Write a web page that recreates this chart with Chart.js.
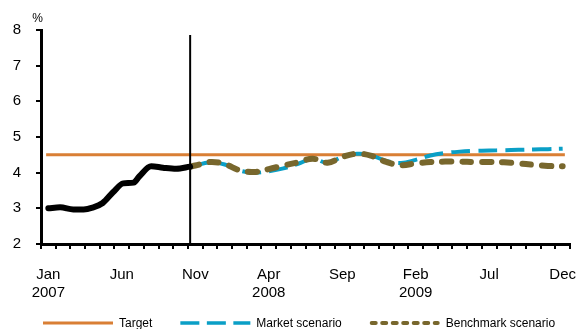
<!DOCTYPE html>
<html>
<head>
<meta charset="utf-8">
<script src="https://cdn.jsdelivr.net/npm/chart.js@4.4.1/dist/chart.umd.min.js"></script>
<style>
  html, body { margin: 0; padding: 0; background: #fff; }
  canvas { display: block; }
</style>
</head>
<body>
<canvas id="chart" width="578" height="329"></canvas>
<script>
const years = ['2007', '2008', '2009'];
const monthNames = ['Jan', 'Feb', 'Mar', 'Apr', 'May', 'Jun', 'Jul', 'Aug', 'Sep', 'Oct', 'Nov', 'Dec'];
const categories = [];
years.forEach(y => monthNames.forEach(m => categories.push(m + ' ' + y)));
// which months get a label on the axis
const shownTicks = [0, 5, 10, 15, 20, 25, 30, 35];

// x values are months since Jan 2007
const actualMonths = [0, 0.8, 1.7, 2.4, 3.0, 3.7, 4.4, 5.1, 5.8, 6.2, 7.0, 7.8, 8.7, 9.65];
const actualValues = [3.00, 3.03, 2.97, 2.97, 3.02, 3.15, 3.45, 3.70, 3.72, 3.90, 4.18, 4.14, 4.11, 4.17];

const scenarioMonths = [9.65, 10, 11, 12, 13, 14, 15, 16, 17, 18, 19, 20, 21, 22,
  23, 24, 25, 26, 27, 28, 29, 30, 31, 32, 33, 34, 35];
const marketValues = [4.17, 4.20, 4.29, 4.23, 4.06, 4.00, 4.04, 4.12, 4.25, 4.39, 4.28, 4.44, 4.53, 4.48,
  4.33, 4.27, 4.36, 4.48, 4.55, 4.59, 4.61, 4.62, 4.63, 4.64, 4.65, 4.66, 4.67];
const benchmarkValues = [4.17, 4.20, 4.30, 4.24, 4.07, 4.02, 4.10, 4.20, 4.29, 4.39, 4.28, 4.44, 4.53, 4.47,
  4.30, 4.21, 4.26, 4.30, 4.31, 4.31, 4.30, 4.30, 4.29, 4.26, 4.22, 4.19, 4.18];

const targetValue = 4.5;
const targetSpan = [-0.15, 35.15];
const forecastStart = 9.65;
const forecastLineTop = 7.86;
const yRange = [2, 8];

const toPoints = (xs, ys) => xs.map((x, i) => ({ x: x, y: ys[i] }));

// hand-drawn legend so the line samples look like the series
const lineLegend = {
  id: 'lineLegend',
  afterDraw(chart, args, opts) {
    const { ctx, chartArea } = chart;
    ctx.save();
    ctx.font = opts.font;
    ctx.textBaseline = 'middle';
    ctx.textAlign = 'left';
    let x = opts.x;
    const y = opts.y;
    // datasets are listed top-most first, legend reads bottom-most first
    chart.data.datasets.slice().reverse().forEach(ds => {
      if (!ds.legend) return;
      const st = ds.legend;
      const inset = st.cap === 'round' ? st.width / 2 : 0;
      ctx.beginPath();
      ctx.lineWidth = st.width;
      ctx.lineCap = st.cap || 'butt';
      ctx.strokeStyle = ds.borderColor;
      ctx.setLineDash(st.dash || []);
      ctx.moveTo(x + inset, y);
      ctx.lineTo(x + opts.boxWidth - inset, y);
      ctx.stroke();
      ctx.setLineDash([]);
      ctx.fillStyle = '#000';
      const tx = x + opts.boxWidth + 6;
      ctx.fillText(ds.label, tx, y + 1);
      x = tx + ctx.measureText(ds.label).width + opts.gap;
    });
    // unit over the value axis
    ctx.textAlign = 'center';
    ctx.font = '12px "Liberation Sans", Arial, sans-serif';
    ctx.fillText('%', chartArea.left - 3.5, chartArea.top - 11);
    ctx.restore();
  }
};

new Chart(document.getElementById('chart'), {
  type: 'line',
  data: {
    labels: categories,
    datasets: [
      {
        label: 'Forecast start',
        data: [{ x: forecastStart, y: yRange[0] }, { x: forecastStart, y: forecastLineTop }],
        borderColor: '#000',
        borderWidth: 2,
        pointRadius: 0,
        xAxisID: 'xv'
      },
      {
        label: 'Actual',
        data: toPoints(actualMonths, actualValues),
        borderColor: '#000',
        borderWidth: 6,
        borderCapStyle: 'round',
        borderJoinStyle: 'round',
        cubicInterpolationMode: 'monotone',
        pointRadius: 0,
        xAxisID: 'xv'
      },
      {
        label: 'Benchmark scenario',
        data: toPoints(scenarioMonths, benchmarkValues),
        borderColor: '#78672d',
        borderWidth: 6,
        borderDash: [9, 11],
        borderCapStyle: 'round',
        tension: 0.4,
        pointRadius: 0,
        xAxisID: 'xv',
        legend: { width: 4, dash: [4, 6.5], cap: 'round' }
      },
      {
        label: 'Market scenario',
        data: toPoints(scenarioMonths, marketValues),
        borderColor: '#0a9fc6',
        borderWidth: 4,
        borderDash: [19, 8],
        tension: 0.4,
        pointRadius: 0,
        xAxisID: 'xv',
        legend: { width: 3.5, dash: [19, 7.5] }
      },
      {
        label: 'Target',
        data: toPoints(targetSpan, [targetValue, targetValue]),
        borderColor: '#d97f35',
        borderWidth: 3,
        pointRadius: 0,
        xAxisID: 'xv',
        legend: { width: 3 }
      }
    ]
  },
  options: {
    responsive: false,
    animation: false,
    layout: { padding: { left: 0, right: 8, top: 30, bottom: 25 } },
    plugins: {
      legend: { display: false },
      tooltip: { enabled: false },
      lineLegend: {
        x: 43,
        y: 323,
        boxWidth: 70,
        gap: 28,
        font: '12px "Liberation Sans", Arial, sans-serif'
      }
    },
    scales: {
      x: {
        type: 'category',
        offset: true,
        afterFit: s => {
          s.height = 60;
          // "Dec" may overhang the plot edge a little
          s.paddingLeft = 0;
          s.paddingRight = 0;
        },
        grid: {
          offset: true,
          drawOnChartArea: false,
          drawTicks: true,
          tickLength: 5,
          color: '#000',
          lineWidth: 2
        },
        border: { display: true, color: '#000', width: 3 },
        ticks: {
          autoSkip: false,
          maxRotation: 0,
          padding: 17,
          color: '#000',
          font: { family: '"Liberation Sans", Arial, sans-serif', size: 15, lineHeight: 1.2 },
          callback: (value, index) => {
            const pos = shownTicks.indexOf(index);
            if (pos < 0) return '';
            const [mon, yr] = categories[index].split(' ');
            const prev = shownTicks[pos - 1];
            if (prev === undefined || categories[prev].split(' ')[1] !== yr) return [mon, yr];
            return mon;
          }
        }
      },
      xv: {
        type: 'linear',
        display: false,
        min: -0.5,
        max: categories.length - 0.5
      },
      y: {
        min: yRange[0],
        max: yRange[1],
        afterFit: s => { s.width = 41; },
        grid: {
          drawOnChartArea: false,
          drawTicks: true,
          tickLength: 5,
          color: '#000',
          lineWidth: 2
        },
        border: { display: true, color: '#000', width: 3 },
        ticks: {
          stepSize: 1,
          padding: 15,
          color: '#000',
          font: { family: '"Liberation Sans", Arial, sans-serif', size: 15 }
        }
      }
    }
  },
  plugins: [lineLegend]
});
</script>
</body>
</html>
